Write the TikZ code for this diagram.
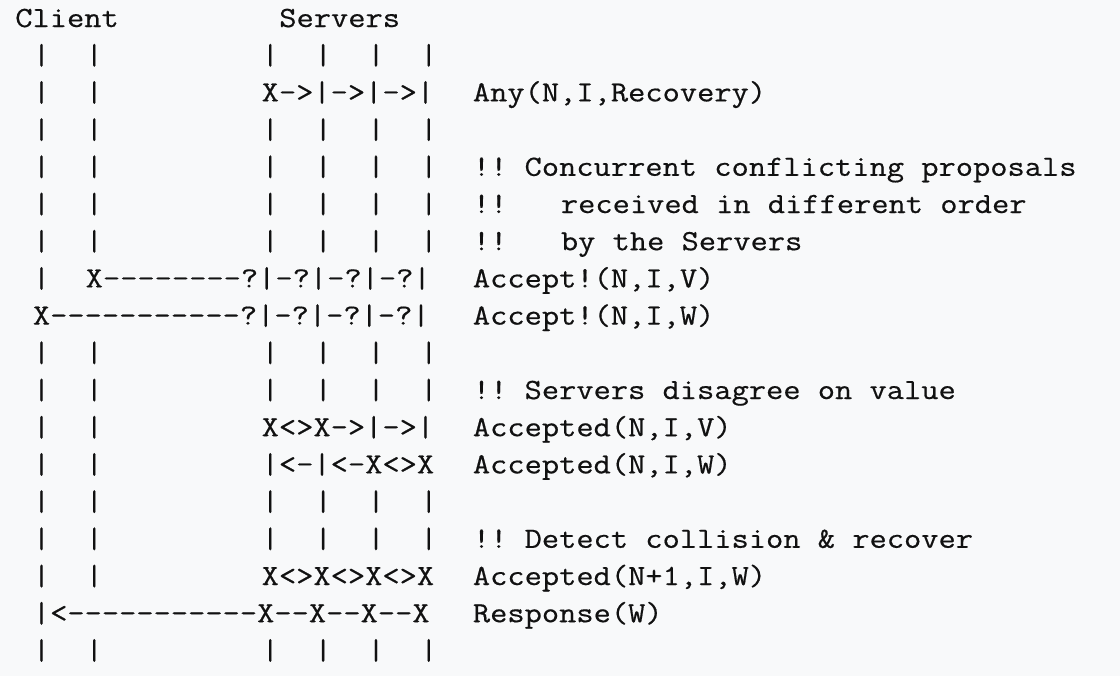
\documentclass[tikz,border=0pt]{standalone}
\usepackage{fontspec}
\setmonofont{Latin Modern Mono}[FakeStretch=1.143,FakeBold=0.5]
\definecolor{bg}{HTML}{F8F9FA}
\definecolor{ink}{HTML}{111111}
\tikzset{
  txt/.style={anchor=base west, inner sep=0pt, outer sep=0pt, text=ink,
    font=\ttfamily\fontsize{14.65}{18}\selectfont}
}
% #1 name, #2 row, #3 column, #4 text
\newcommand\seg[4]{\node[txt] (#1) at ({15.3+#3*17.6},{27+#2*37.2}) {#4};}
\newcommand\clientbars[2]{\seg{#1c1}{#2}{1}{|}\seg{#1c4}{#2}{4}{|}}
\newcommand\serverbars[2]{\seg{#1s14}{#2}{14}{|}\seg{#1s17}{#2}{17}{|}\seg{#1s20}{#2}{20}{|}\seg{#1s23}{#2}{23}{|}}
\newcommand\allbars[2]{\clientbars{#1}{#2}\serverbars{#1}{#2}}
\begin{document}
\begin{tikzpicture}[x=0.5pt,y=-0.5pt]
\path[fill=bg,use as bounding box] (0,0) rectangle (1120,676);
% row 0
\seg{client}{0}{0}{Client}
\seg{servers}{0}{15}{Servers}
% row 1
\allbars{ra}{1}
% row 2
\clientbars{rb}{2}
\seg{anymsg}{2}{14}{X->|->|->|}
\seg{anylab}{2}{26}{Any(N,I,Recovery)}
% row 3
\allbars{rc}{3}
% rows 4-6
\allbars{rd}{4}
\seg{note1}{4}{26}{!! Concurrent conflicting proposals}
\allbars{re}{5}
\seg{note2a}{5}{26}{!!}
\seg{note2b}{5}{31}{received in different order}
\allbars{rf}{6}
\seg{note3a}{6}{26}{!!}
\seg{note3b}{6}{31}{by the Servers}
% row 7
\seg{rgc1}{7}{1}{|}
\seg{accv}{7}{4}{X--------?|-?|-?|-?|}
\seg{accvlab}{7}{26}{Accept!(N,I,V)}
% row 8
\seg{accw}{8}{1}{X-----------?|-?|-?|-?|}
\seg{accwlab}{8}{26}{Accept!(N,I,W)}
% row 9
\allbars{ri}{9}
% row 10
\allbars{rj}{10}
\seg{note4}{10}{26}{!! Servers disagree on value}
% row 11
\clientbars{rk}{11}
\seg{accdv}{11}{14}{X<>X->|->|}
\seg{accdvlab}{11}{26}{Accepted(N,I,V)}
% row 12
\clientbars{rl}{12}
\seg{accdw}{12}{14}{|<-|<-X<>X}
\seg{accdwlab}{12}{26}{Accepted(N,I,W)}
% row 13
\allbars{rm}{13}
% row 14
\allbars{rn}{14}
\seg{note5}{14}{26}{!! Detect collision \& recover}
% row 15
\clientbars{ro}{15}
\seg{rec}{15}{14}{X<>X<>X<>X}
\seg{reclab}{15}{26}{Accepted(N+1,I,W)}
% row 16
\seg{resp}{16}{1}{|<-----------X--X--X--X}
\seg{resplab}{16}{26}{Response(W)}
% row 17
\allbars{rq}{17}
\end{tikzpicture}
\end{document}
